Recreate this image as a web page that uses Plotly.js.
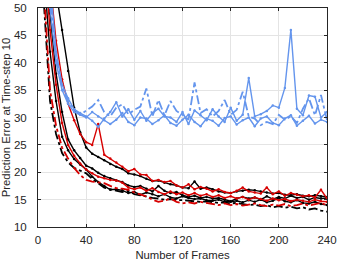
<!DOCTYPE html>
<html>
<head>
<meta charset="utf-8">
<script src="https://cdn.plot.ly/plotly-3.0.1.min.js"></script>
<style>
  html, body { margin: 0; padding: 0; background: #fff; }
  #chart { width: 339px; height: 263px; }
</style>
</head>
<body>
<div id="chart"></div>
<script>
// frames sampled every 5
const frames = [5,10,15,20,25,30,35,40,45,50,55,60,65,70,75,80,85,90,95,100,105,110,115,120,
  125,130,135,140,145,150,155,160,165,170,175,180,185,190,195,200,205,210,215,220,225,230,235,240];

const blackA = [75,62,53,46,38.5,31.8,27.3,24.5,23.4,22.8,22.2,21.5,21,20.6,19.8,19.6,19.3,18.8,18.4,18.5,18.1,17.8,17.6,17.2,
  17.1,18.3,17,17.2,16.9,16.5,16.3,16.2,16.5,16.6,16.8,16.7,16.5,16.3,16.1,16.2,15.9,15.8,16,15.7,15.6,15.8,15.6,15.5];
const blackB = [62,49,38,31,26,24,22.6,21.2,20.7,19.9,19.3,18.9,18.5,18.2,17.6,17.3,17.5,17,16.5,17.5,16.6,16.2,16.4,15.8,
  15.5,15.7,15.3,15.5,15.2,15.3,15,14.7,15.2,15.5,15.2,15.4,15,15.6,15.1,15.5,15.2,15.7,15.3,15.5,15,15.4,15.2,15.3];
const blackC = [56,42,33,26.5,24,22.4,21.4,20.5,19.2,18.2,17.5,16.8,16.9,16.7,16.2,16.4,15.9,16.3,16,15.6,16,15.4,15.2,15.6,
  15.3,15.1,15.2,14.9,14.8,15,14.6,14.6,14.8,14.5,14.9,14.6,15,14.5,14.8,15.3,14.7,14.5,14.9,14.4,14.3,14.6,14.2,14];
const blackDD = [50.5,33,27,23.5,21.8,20.8,20.3,19.8,18.8,18,17.2,16.9,16.7,16.4,16.6,16,15.8,15.5,15.3,15.2,15,15.1,14.9,14.9,
  14.8,14.7,14.6,14.7,14.5,14.4,14.5,14.3,14.4,14.2,14,14.1,13.8,14,13.6,13.8,13.5,13.7,13.4,13.6,13.2,13.4,13,12.8];

const red1 = [72,55,44,37,32.5,29.5,27,25.5,25,28.8,23.2,22.5,21.8,21,20.2,20.6,19.6,19.5,18.4,18.6,18.2,18.4,17.6,17.2,
  17.8,16.9,17.3,17,16.5,16.9,16.4,16.2,16.6,17.2,16.5,16.3,16.1,17.2,16,16.5,15.7,16.2,15.9,15.6,15.8,15.4,16.8,15.2];
const red2 = [60,46,36,29,25,23,21.6,20.5,19.8,19.2,18.9,18.6,18.5,18.1,17.2,16.9,17.2,16.6,17.1,16.4,16,16.5,16,16.3,
  15.8,16.2,15.7,16,15.5,15.8,15.3,15.6,15.2,15.5,15,15.4,15.1,14.8,15.2,14.9,15.1,14.7,15,14.8,14.6,15,14.7,14.6];
const redDD = [53,35,28.5,24.5,22.5,20.8,19.5,18.6,18.3,18.1,18,17.5,17.1,17,16.8,16.3,16,15.6,15,14.6,14.8,15.2,14.6,14.3,
  14.5,14.3,14.6,14.4,14.2,14,14.3,14,14.2,13.9,14.1,14.3,14,13.8,14.1,13.9,14.2,13.8,14,14.3,13.9,14.1,14.4,14];

const blue1 = [85,55,42,36,33.5,31.5,30.8,30.2,29.4,28.3,29.8,31,32.8,30.2,31.5,29.6,31.2,29.4,30.8,31.6,30.2,30,29.2,31,
  28.8,31.3,30.4,29.5,31.5,30.2,29.2,31.8,29.4,30.5,37.2,30.2,30.6,31.2,32.2,31.8,35.4,46,31.6,30.4,34,33.8,30,31];
const blue2 = [78,50,40,35,32.5,31,30.5,30,31,30.2,29.5,28.8,29.6,30.8,29.2,28.6,30,29.8,28.8,29.5,30.4,29,28.5,29.6,
  30.5,29.2,28.4,29.8,29.4,28.5,29.9,30.2,28.7,29.5,30,28.4,29.8,30.2,29,28.6,29.8,30.4,28.5,29.4,30.3,28.9,29.6,29.2];
const blueDD = [80,52,41,35.5,33,31.5,30.5,31.2,32,33.2,31,30.2,31.8,32.4,30.6,31.4,32,35.3,30.2,33.2,30.4,33,31.2,30.5,
  29.6,36.4,30.8,31.5,30.2,31.2,33.2,30.5,31.4,34.7,30.2,29.8,28.6,29.2,28.8,30.5,29.6,30.2,29,31.6,33.5,30.4,34.1,29.5];

const BLACK = 'rgb(0,0,0)';
const RED = 'rgb(215,0,0)';
const BLUE = 'rgb(100,149,237)';

function solid(y, color) {
    return {
        x: frames, y: y, type: 'scatter', mode: 'lines+markers',
        line: { color: color, width: 1.4 },
        marker: { color: color, size: 2.5 },
        hoverinfo: 'skip'
    };
}

function dashDot(y, color) {
    return {
        x: frames, y: y, type: 'scatter', mode: 'lines',
        line: { color: color, width: 1.8, dash: 'dashdot' },
        hoverinfo: 'skip'
    };
}

const data = [
    solid(blackA, BLACK), solid(blackB, BLACK), solid(blackC, BLACK), dashDot(blackDD, BLACK),
    solid(red1, RED), solid(red2, RED), dashDot(redDD, RED),
    solid(blue1, BLUE), solid(blue2, BLUE), dashDot(blueDD, BLUE)
];

const axisCommon = {
    showgrid: true,
    gridcolor: 'rgb(228,228,228)',
    gridwidth: 1,
    zeroline: false,
    showline: true,
    linecolor: 'rgb(38,38,38)',
    linewidth: 1,
    mirror: 'ticks',
    ticks: 'inside',
    ticklen: 3,
    tickcolor: 'rgb(38,38,38)',
    tickfont: { size: 11.5, color: 'rgb(38,38,38)' }
};

const layout = {
    width: 339,
    height: 263,
    margin: { l: 38, r: 12, t: 8, b: 36 },
    showlegend: false,
    paper_bgcolor: '#fff',
    plot_bgcolor: '#fff',
    font: { family: 'Liberation Sans, Arial, sans-serif', size: 11, color: 'rgb(38,38,38)' },
    xaxis: Object.assign({}, axisCommon, {
        range: [0, 240],
        tickvals: [0, 40, 80, 120, 160, 200, 240],
        ticklabelstandoff: 2,
        title: { text: 'Number of Frames', font: { size: 11.3 }, standoff: 6 }
    }),
    yaxis: Object.assign({}, axisCommon, {
        range: [10, 50],
        tickvals: [10, 15, 20, 25, 30, 35, 40, 45, 50],
        ticklabelstandoff: 8,
        title: { text: 'Prediction Error at Time-step 10', font: { size: 11.3 }, standoff: 0 }
    })
};

Plotly.newPlot('chart', data, layout, { staticPlot: true, displayModeBar: false });
</script>
</body>
</html>
